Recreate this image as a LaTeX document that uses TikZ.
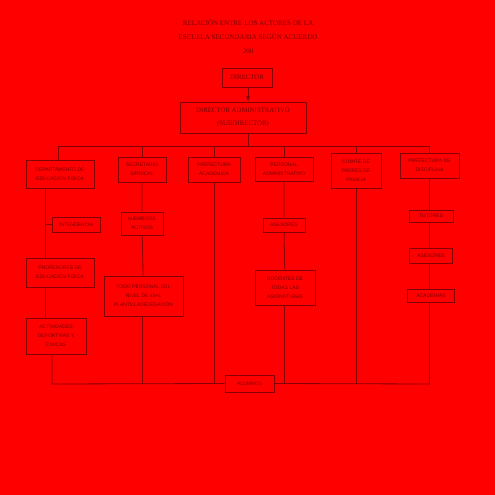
\documentclass[tikz,border=0pt]{standalone}
\usepackage{fontspec}
\setmainfont{Liberation Serif}
\setsansfont{Liberation Sans}
\usepackage{tikz}
\usetikzlibrary{arrows, positioning, calc}
\definecolor{bgred}{RGB}{255, 0, 0}
\definecolor{linered}{RGB}{130, 0, 0}
\definecolor{textred}{RGB}{120, 0, 0}

\begin{document}
\begin{tikzpicture}[
    x=1pt, y=-1pt,
    actor/.style={rectangle, draw=linered, line width=0.8pt, fill=bgred, text=textred, inner sep=0pt, align=center, minimum width=#1, font=\sffamily\fontsize{5}{9}\selectfont},
    head/.style={rectangle, draw=linered, line width=0.8pt, fill=bgred, text=textred, inner sep=0pt, align=center, font=\fontsize{6.8}{13}\selectfont},
    link/.style={draw=linered, line width=0.8pt},
    arrow/.style={-latex, draw=linered, line width=0.8pt}
]
    \fill[bgred] (0,0) rectangle (495,495);
    \useasboundingbox (0,0) rectangle (495,495);

    \node[text=textred, align=center, font=\fontsize{7}{14}\selectfont] (title) at (248,37) {RELACIÓN ENTRE LOS ACTORES DE LA\\ESCUELA SECUNDARIA SEGÚN ACUERDO\\200};

    \node[head, minimum width=50pt, minimum height=19pt] (dir) at (247,77.5) {DIRECTOR};
    \node[head, minimum width=126pt, minimum height=31pt] (admin) at (243,117.5) {DIRECTOR ADMINISTRATIVO\\(SUBDIRECTOR)};

    % first row
    \node[actor=68pt, minimum height=28pt] (dept) at (60,174) {DEPARTAMENTO DE\\EDUCACIÓN FISICA};
    \node[actor=48pt, minimum height=25pt] (secre) at (142,169.5) {SECRETARIO\\SINDICAL};
    \node[actor=52pt, minimum height=25pt] (prefA) at (214,169.5) {PREFECTURA\\ACADEMICA};
    \node[actor=58pt, minimum height=24pt] (pers) at (284,169) {PERSONAL\\ADMINISTRATIVO};
    \node[actor=50pt, minimum height=35pt] (comite) at (356,170.5) {COMITÉ DE\\PADRES DE\\FAMILIA};
    \node[actor=59pt, minimum height=25pt] (prefD) at (429.5,165.5) {PREFECTURA DE\\DISCIPLINA};

    % lower boxes
    \node[actor=48pt, minimum height=15pt] (intend) at (76,224.5) {INTENDENCIA};
    \node[actor=68pt, minimum height=29pt] (profes) at (60,272.5) {PROFESORES DE\\EDUCACIÓN FISICA};
    \node[actor=60pt, minimum height=36pt] (activ) at (56,336) {ACTIVIDADES\\DEPORTIVAS Y\\CIVICAS};
    \node[actor=42pt, minimum height=23pt] (miemb) at (142,223.5) {MIEMBROS\\ACTIVOS};
    \node[actor=79pt, minimum height=40pt] (todo) at (143.5,296) {TODO PERSONAL DEL\\NIVEL DE 43+1\\PLANTILLADELEGACIÓN};
    \node[actor=42pt, minimum height=14pt] (asesP) at (284,225) {ASESORES};
    \node[actor=60pt, minimum height=35pt] (docen) at (285,287.5) {DOCENTES DE\\TODAS LAS\\ASIGNATURAS};
    \node[actor=44pt, minimum height=12pt] (tutor) at (431,216) {TUTORES};
    \node[actor=43pt, minimum height=15pt] (asesD) at (431,255.5) {ASESORES};
    \node[actor=47pt, minimum height=13pt] (acad) at (431,295.5) {ACADEMIAS};
    \node[actor=49pt, minimum height=17pt] (alum) at (249.5,383.5) {ALUMNOS};

    \coordinate (busT) at (248,146);
    \coordinate (busB) at (248,384);
    \coordinate (c1) at (45,0);

    \draw[arrow] (dir.south -| busT) -- (admin.north -| busT);
    \draw[link] (admin.south -| busT) -- (busT);
    \draw[link] ([xshift=-2pt]dept.north |- busT) -- (prefD.north |- busT);
    \draw[link] ([xshift=-2pt]dept.north |- busT) -- ([xshift=-2pt]dept.north);
    \foreach \n in {secre, prefA, pers, comite, prefD}
        \draw[link] (\n.north |- busT) -- (\n.north);

    % left column
    \draw[link] (dept.south -| c1) -- (profes.north -| c1);
    \draw[link] (intend.west) -- (intend.west -| c1);
    \draw[link] (profes.south -| c1) -- (activ.north -| c1);
    \draw[link] ([xshift=-4pt]activ.south) -- ([xshift=-4pt]activ.south |- busB) -- (alum.west);

    % middle columns
    \draw[link] (secre) -- (miemb) -- (todo);
    \draw[link] (todo.south -| secre) -- (secre |- busB);
    \draw[link] (prefA.south) -- (prefA.south |- busB);
    \draw[link] (pers) -- (asesP) -- (docen);
    \draw[link] (docen.south -| pers) -- (pers |- busB);
    \draw[link] (comite.south) -- (comite.south |- busB);

    % right column
    \draw[link] (prefD.south) -- (tutor.north -| prefD);
    \draw[link] (tutor.south -| prefD) -- (asesD.north -| prefD);
    \draw[link] (asesD.south -| prefD) -- (acad.north -| prefD);
    \draw[link] (acad.south -| prefD) -- (prefD |- busB) -- (alum.east);
\end{tikzpicture}
\end{document}
